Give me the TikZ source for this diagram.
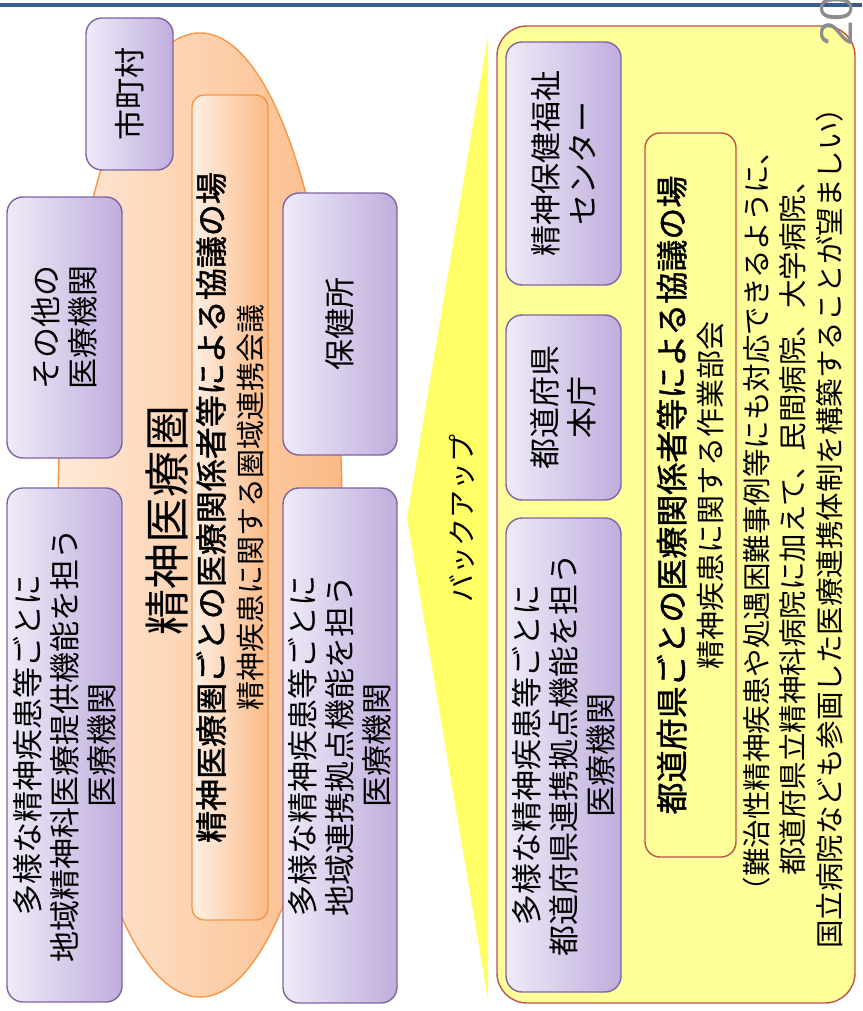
\documentclass[tikz,border=0pt]{standalone}
\usepackage{fontspec}
\setmainfont{Noto Sans CJK JP}
\newfontfamily\medfont[FakeBold=1.3]{Noto Sans CJK JP}
\newfontfamily\numfont{Liberation Sans}

\definecolor{topbar}{HTML}{3A5E8C}
\definecolor{pborder}{HTML}{8064A2}
\definecolor{plight}{HTML}{EFEBF8}
\definecolor{pdark}{HTML}{C0ADDD}
\definecolor{oborder}{HTML}{F79646}
\definecolor{olight}{HTML}{FEE9D8}
\definecolor{odark}{HTML}{FBBA86}
\definecolor{rborder}{HTML}{C0504D}
\definecolor{yfill}{HTML}{FFFF99}
\definecolor{ytri}{HTML}{FFFF66}
\definecolor{pagegray}{HTML}{8C8C8C}

\tikzset{
  pbox/.style={draw=pborder,line width=1.4pt,rounded corners=16pt,
    left color=plight,right color=pdark,font=\fontsize{31}{37}\selectfont},
  obox/.style={draw=oborder,line width=1.4pt,rounded corners=12pt,
    left color=olight!70!white,right color=odark},
  rbox/.style={draw=rborder,line width=1.4pt,fill=yfill}
}

\begin{document}
\begin{tikzpicture}[x=1pt,y=-1pt,
  every node/.style={rotate=90,align=center,inner sep=0pt}]
\useasboundingbox (0,0) rectangle (862,1011);
\fill[topbar] (0,3) rectangle (862,7.5);

% 精神医療圏
\draw[draw=oborder,line width=1.4pt,left color=olight,right color=odark]
  (200,515) ellipse [x radius=142pt,y radius=482pt];
\node (kengikai) [obox,minimum width=825,minimum height=76,
  font=\fontsize{29}{38}\selectfont] at (230,507.5)
  {{\medfont\fontsize{32}{38}\selectfont 精神医療圏ごとの医療関係者等による協議の場}\\
   精神疾患に関する圏域連携会議};
\node (ken) [font=\fontsize{46}{50}\selectfont] at (167,520) {精神医療圏};

\node (shichoson) [pbox,minimum width=152,minimum height=87] at (129.5,94) {市町村};
\node (sonota) [pbox,minimum width=261,minimum height=115] at (64.5,327.5)
  {その他の\\医療機関};
\node (teikyo) [pbox,minimum width=514,minimum height=115] at (64.5,745)
  {多様な精神疾患等ごとに\\地域精神科医療提供機能を担う\\医療機関};
\node (hokenjo) [pbox,minimum width=262,minimum height=114] at (340,324) {保健所};
\node (chiiki) [pbox,minimum width=515,minimum height=114] at (340,745.5)
  {多様な精神疾患等ごとに\\地域連携拠点機能を担う\\医療機関};

% バックアップ
\coordinate (apex) at (407,518);
\fill[ytri] (apex) -- (488,35) -- (488,1000) -- cycle;
\node (backup) [font=\fontsize{28}{30}\selectfont] at (462,518) {バックアップ};

% 都道府県
\node (pref) [rbox,rounded corners=30pt,minimum width=977,minimum height=358]
  at (676,514.5) {};
\node (center) [pbox,minimum width=243,minimum height=115] at (563.5,163.5)
  {精神保健福祉\\センター};
\node (honcho) [pbox,minimum width=185,minimum height=115] at (563.5,407.5)
  {都道府県\\本庁};
\node (kyoten) [pbox,minimum width=474,minimum height=115] at (563.5,755)
  {多様な精神疾患等ごとに\\都道府県連携拠点機能を担う\\医療機関};
\node (bukai) [rbox,rounded corners=15pt,minimum width=724,minimum height=91,
  font=\fontsize{29}{38}\selectfont] at (690.5,495)
  {{\medfont\fontsize{32}{38}\selectfont 都道府県ごとの医療関係者等による協議の場}\\
   精神疾患に関する作業部会};
\node (note) [font=\fontsize{28.5}{36.5}\selectfont] at (793,521)
  {（難治性精神疾患や処遇困難事例等にも対応できるように、\\
   都道府県立精神科病院に加えて、民間病院、大学病院、\\
   国立病院なども参画した医療連携体制を構築することが望ましい）};

\node (page) [anchor=base west,font=\numfont\fontsize{46}{50}\selectfont,
  text=pagegray] at (852,47) {20};
\end{tikzpicture}
\end{document}
